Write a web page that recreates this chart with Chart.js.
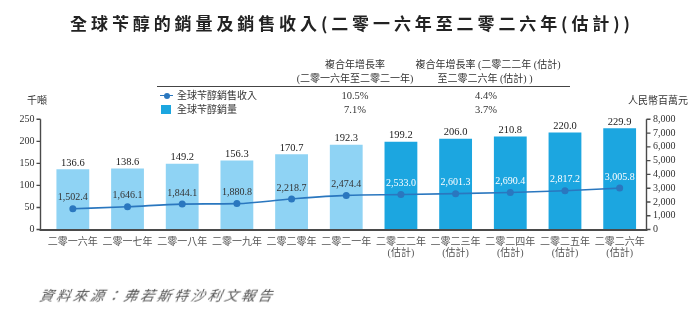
<!DOCTYPE html>
<html>
<head>
<meta charset="utf-8">
<script src="https://cdn.jsdelivr.net/npm/chart.js@4/dist/chart.umd.min.js"></script>
<style>
  html, body { margin: 0; padding: 0; background: #fff; }
  #wrap { position: relative; width: 700px; height: 324px; overflow: hidden; }
  canvas { position: absolute; left: 0; top: 0; }
  .t { position: absolute; white-space: nowrap; color: #333;
       font-family: "Liberation Serif", "Noto Sans CJK TC", serif; font-size: 10px; line-height: 14px; }
  .n { font-size: 10.5px; }
  .c { transform: translateX(-50%); text-align: center; }
  #title { left: 352px; top: 12px; transform: translateX(-50%); font-family: "Noto Sans CJK TC", sans-serif;
           font-weight: bold; font-size: 17px; line-height: 22px; letter-spacing: 3.9px; color: #222; }
  #source { left: 40px; top: 286px; font-family: "Noto Sans CJK TC", sans-serif; font-style: italic;
            font-size: 14px; line-height: 18px; letter-spacing: 2.8px; color: #555; transform: skewX(-12deg); }
  #rule { position: absolute; left: 157px; top: 86px; width: 413px; height: 0; border-top: 1.6px solid #444; }
  #lgLine { position: absolute; left: 160px; top: 95px; width: 13px; height: 0; border-top: 1.6px solid #2a77bf; }
  #lgDot { position: absolute; left: 164px; top: 93px; width: 6px; height: 6px; border-radius: 50%; background: #2a77bf; }
  #lgBox { position: absolute; left: 161px; top: 105px; width: 10px; height: 9px; background: #1ca6e0; }
</style>
</head>
<body>
<div id="wrap">
  <canvas id="chart" width="700" height="324"></canvas>
  <div id="title" class="t">全球苄醇的銷量及銷售收入(二零一六年至二零二六年(估計))</div>
  <div class="t c" style="left:355px; top:58px;">複合年增長率</div>
  <div class="t c" style="left:355px; top:72px;">(二零一六年至二零二一年)</div>
  <div class="t c" style="left:488px; top:58px;">複合年增長率 (二零二二年 (估計)</div>
  <div class="t c" style="left:485px; top:72px;">至二零二六年 (估計) )</div>
  <div id="rule"></div>
  <div id="lgLine"></div><div id="lgDot"></div>
  <div class="t" style="left:177px; top:89px;">全球苄醇銷售收入</div>
  <div id="lgBox"></div>
  <div class="t" style="left:177px; top:103px;">全球苄醇銷量</div>
  <div class="t n c" style="left:355px; top:89px;">10.5%</div>
  <div class="t n c" style="left:355px; top:103px;">7.1%</div>
  <div class="t n c" style="left:486px; top:89px;">4.4%</div>
  <div class="t n c" style="left:486px; top:103px;">3.7%</div>
  <div class="t" style="left:27px; top:94px;">千噸</div>
  <div class="t" style="left:628px; top:94px;">人民幣百萬元</div>
  <div id="source" class="t">資料來源：弗若斯特沙利文報告</div>
</div>
<script>
// Years on the category axis; forecast years carry a second line
const categories = [
  ['二零一六年'], ['二零一七年'], ['二零一八年'], ['二零一九年'], ['二零二零年'], ['二零二一年'],
  ['二零二二年', '(估計)'], ['二零二三年', '(估計)'], ['二零二四年', '(估計)'],
  ['二零二五年', '(估計)'], ['二零二六年', '(估計)']
];
// Sales volume, thousand tonnes
const volume = [136.6, 138.6, 149.2, 156.3, 170.7, 192.3, 199.2, 206.0, 210.8, 220.0, 229.9];
// Sales revenue, RMB million
const revenue = [1502.4, 1646.1, 1844.1, 1880.8, 2218.7, 2474.4, 2533.0, 2601.3, 2690.4, 2817.2, 3005.8];
// Axis ticks
const leftTicks = [0, 50, 100, 150, 200, 250];
const rightTicks = [0, 1000, 2000, 3000, 4000, 5000, 6000, 7000, 8000];
// Index of the first forecast year
const firstForecast = 6;

const LIGHT = '#8fd3f4';
const DARK = '#1ca6e0';
const LINE = '#2a77bf';
const SERIF = '"Liberation Serif", "Noto Sans CJK TC", serif';

const fmt = v => v.toLocaleString('en-US', { minimumFractionDigits: 1, maximumFractionDigits: 1 });

const AREA = { left: 45.5, right: 647, top: 119.3, bottom: 229.5 };

const decorations = {
  id: 'decorations',
  afterDatasetsDraw(chart) {
    const ctx = chart.ctx;
    const yL = chart.scales.yL, yR = chart.scales.yR;
    ctx.save();
    ctx.strokeStyle = '#4a4a4a';
    ctx.lineWidth = 1.4;
    // left axis
    const lx = 40.5;
    ctx.beginPath();
    ctx.moveTo(lx, yL.getPixelForValue(leftTicks[leftTicks.length - 1]));
    ctx.lineTo(lx, AREA.bottom);
    leftTicks.forEach(v => { const y = yL.getPixelForValue(v); ctx.moveTo(lx - 4, y); ctx.lineTo(lx, y); });
    ctx.stroke();
    // right axis
    const rx = 646.5;
    ctx.beginPath();
    ctx.moveTo(rx, yR.getPixelForValue(rightTicks[rightTicks.length - 1]));
    ctx.lineTo(rx, AREA.bottom);
    rightTicks.forEach(v => { const y = yR.getPixelForValue(v); ctx.moveTo(rx, y); ctx.lineTo(rx + 4, y); });
    ctx.stroke();
    // baseline
    ctx.lineWidth = 2;
    ctx.beginPath();
    ctx.moveTo(lx - 1, AREA.bottom + 0.5);
    ctx.lineTo(rx + 1, AREA.bottom + 0.5);
    ctx.stroke();

    // value labels
    ctx.textAlign = 'center';
    const bars = chart.getDatasetMeta(1).data;
    ctx.font = '10.5px ' + SERIF;
    ctx.textBaseline = 'bottom';
    ctx.fillStyle = '#222';
    bars.forEach((b, i) => ctx.fillText(fmt(volume[i]), b.x, b.y - 1));
    const pts = chart.getDatasetMeta(0).data;
    ctx.font = '10px ' + SERIF;
    ctx.textBaseline = 'middle';
    pts.forEach((p, i) => {
      ctx.fillStyle = i >= firstForecast ? '#ffffff' : '#333';
      ctx.fillText(fmt(revenue[i]), p.x, p.y - 11);
    });
    ctx.restore();
  }
};

new Chart(document.getElementById('chart'), {
  data: {
    labels: categories,
    datasets: [
      {
        type: 'line', label: '全球苄醇銷售收入', data: revenue, yAxisID: 'yR', order: 0,
        borderColor: LINE, backgroundColor: LINE, borderWidth: 1.6,
        pointRadius: 3.5, pointHoverRadius: 3.5, pointBackgroundColor: LINE, pointBorderWidth: 0,
        cubicInterpolationMode: 'monotone'
      },
      {
        type: 'bar', label: '全球苄醇銷量', data: volume, yAxisID: 'yL', order: 1,
        backgroundColor: volume.map((_, i) => i >= firstForecast ? DARK : LIGHT),
        barPercentage: 0.6, categoryPercentage: 1.0, borderWidth: 0
      }
    ]
  },
  options: {
    responsive: false,
    devicePixelRatio: 1,
    animation: false,
    layout: { padding: { top: AREA.top, left: 0, right: 0, bottom: 0 } },
    plugins: { legend: { display: false }, tooltip: { enabled: false }, title: { display: false } },
    scales: {
      x: {
        type: 'category', offset: true,
        grid: { display: false, drawTicks: false, tickLength: 0 },
        border: { display: false },
        ticks: { color: '#555', padding: 7, maxRotation: 0, autoSkip: false,
                 font: { family: SERIF, size: 10, lineHeight: 1.13 } },
        afterFit(s) { s.height = 324 - AREA.bottom; }
      },
      yL: {
        position: 'left', min: 0, max: 250,
        afterBuildTicks(s) { s.ticks = leftTicks.map(v => ({ value: v })); },
        grid: { display: false, drawTicks: false, tickLength: 0 },
        border: { display: false },
        ticks: { color: '#333', padding: 11, autoSkip: false, font: { family: SERIF, size: 10 } },
        afterFit(s) { s.width = AREA.left; }
      },
      yR: {
        position: 'right', min: 0, max: 8000,
        afterBuildTicks(s) { s.ticks = rightTicks.map(v => ({ value: v })); },
        grid: { display: false, drawTicks: false, tickLength: 0 },
        border: { display: false },
        ticks: { color: '#333', padding: 6, autoSkip: false, font: { family: SERIF, size: 10 },
                 callback: v => v.toLocaleString('en-US') },
        afterFit(s) { s.width = 700 - AREA.right; }
      }
    }
  },
  plugins: [decorations]
});
</script>
</body>
</html>
